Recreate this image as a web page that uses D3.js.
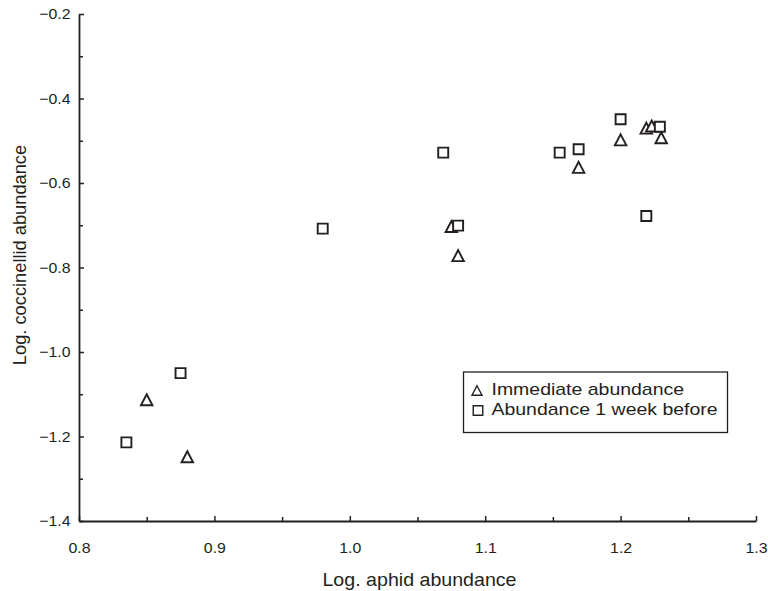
<!DOCTYPE html>
<html>
<head>
<meta charset="utf-8">
<script src="https://cdn.jsdelivr.net/npm/d3@7"></script>
<style>
  html, body { margin: 0; padding: 0; background: #fff; }
  svg { display: block; font-family: "Liberation Sans", Arial, Helvetica, sans-serif; }
</style>
</head>
<body>
<svg id="chart" width="768" height="591"></svg>
<script>
// ---- data ----
const immediateX = [0.85, 0.88, 1.075, 1.08, 1.169, 1.2, 1.219, 1.223, 1.23];
const immediateY = [-1.113, -1.248, -0.703, -0.772, -0.563, -0.498, -0.47, -0.465, -0.493];
const weekBeforeX = [0.835, 0.875, 0.98, 1.069, 1.08, 1.155, 1.169, 1.2, 1.229, 1.219];
const weekBeforeY = [-1.214, -1.05, -0.708, -0.528, -0.701, -0.528, -0.52, -0.449, -0.467, -0.678];
const xTicks = [0.8, 0.9, 1.0, 1.1, 1.2, 1.3];
const xMinorTicks = [0.85, 0.95, 1.05, 1.15, 1.25];
const yTicks = [-1.4, -1.2, -1.0, -0.8, -0.6, -0.4, -0.2];
const yMinorTicks = [-1.3, -1.1, -0.9, -0.7, -0.5, -0.3];
const xTitle = "Log. aphid abundance";
const yTitle = "Log. coccinellid abundance";
const legendLabels = ["Immediate abundance", "Abundance 1 week before"];

// ---- layout ----
const svg = d3.select("#chart");
const ink = "#231f20";
const x = d3.scaleLinear().domain([0.8, 1.3]).range([79, 756]);
const y = d3.scaleLinear().domain([-1.4, -0.2]).range([521, 14]);
const fmtY = v => (v < 0 ? "\u2212" : "") + Math.abs(v).toFixed(1);

// bottom axis
svg.append("g").attr("transform", `translate(0,${y.range()[0]})`)
  .call(d3.axisBottom(x).tickValues(xTicks).tickFormat(d3.format(".1f"))
    .tickSize(-5).tickSizeOuter(0).tickPadding(21));
svg.append("g").attr("transform", `translate(0,${y.range()[0]})`)
  .call(d3.axisBottom(x).tickValues(xMinorTicks).tickFormat("")
    .tickSize(-4).tickSizeOuter(0))
  .select(".domain").remove();

// left axis
svg.append("g").attr("transform", `translate(${x.range()[0]},0)`)
  .call(d3.axisLeft(y).tickValues(yTicks).tickFormat(fmtY)
    .tickSize(-5).tickSizeOuter(0).tickPadding(8));
svg.append("g").attr("transform", `translate(${x.range()[0]},0)`)
  .call(d3.axisLeft(y).tickValues(yMinorTicks).tickFormat("")
    .tickSize(-4).tickSizeOuter(0))
  .select(".domain").remove();

svg.selectAll(".domain").attr("stroke", ink).attr("stroke-width", 1.8);
svg.selectAll(".tick line").attr("stroke", ink).attr("stroke-width", 1.5);
svg.selectAll(".tick text").attr("fill", ink)
  .attr("transform", "scale(1.06,1)")
  .style("font-size", "15px").style("font-family", '"Liberation Sans", Arial, sans-serif');

// titles
svg.append("text")
  .attr("transform", `translate(${(x.range()[0] + x.range()[1]) / 2 + 2},586) scale(1.09,1)`)
  .attr("text-anchor", "middle").attr("fill", ink).style("font-size", "18px")
  .text(xTitle);
svg.append("text")
  .attr("transform", `translate(26,255) rotate(-90) scale(1.015,1)`)
  .attr("text-anchor", "middle").attr("fill", ink).style("font-size", "18px")
  .text(yTitle);

// marker shapes
function triPath(w, h) {
  return `M0,${-h / 2}L${w / 2},${h / 2}L${-w / 2},${h / 2}Z`;
}
function sqPath(s) {
  return `M${-s / 2},${-s / 2}h${s}v${s}h${-s}Z`;
}

const immediate = immediateX.map((v, i) => ({ x: v, y: immediateY[i] }));
const weekBefore = weekBeforeX.map((v, i) => ({ x: v, y: weekBeforeY[i] }));

svg.append("g").selectAll("path").data(immediate).join("path")
  .attr("d", triPath(11.5, 11))
  .attr("transform", d => `translate(${x(d.x)},${y(d.y)})`)
  .attr("fill", "#fff").attr("stroke", ink).attr("stroke-width", 1.9)
  .attr("stroke-linejoin", "miter");

svg.append("g").selectAll("path").data(weekBefore).join("path")
  .attr("d", sqPath(10))
  .attr("transform", d => `translate(${x(d.x)},${y(d.y)})`)
  .attr("fill", "#fff").attr("stroke", ink).attr("stroke-width", 1.9);

// legend
const lg = svg.append("g");
lg.append("rect").attr("x", 463.5).attr("y", 372).attr("width", 264).attr("height", 60.5)
  .attr("fill", "#fff").attr("stroke", ink).attr("stroke-width", 1.3);
lg.append("path").attr("d", triPath(10, 9.5)).attr("transform", "translate(477,390.5)")
  .attr("fill", "none").attr("stroke", ink).attr("stroke-width", 1.4);
lg.append("path").attr("d", sqPath(9.5)).attr("transform", "translate(478,410.5)")
  .attr("fill", "none").attr("stroke", ink).attr("stroke-width", 1.4);
legendLabels.forEach((t, i) => {
  lg.append("text")
    .attr("transform", `translate(491.5,${395.3 + i * 19.5}) scale(1.145,1)`)
    .attr("fill", ink).style("font-size", "17px").text(t);
});
</script>
</body>
</html>
